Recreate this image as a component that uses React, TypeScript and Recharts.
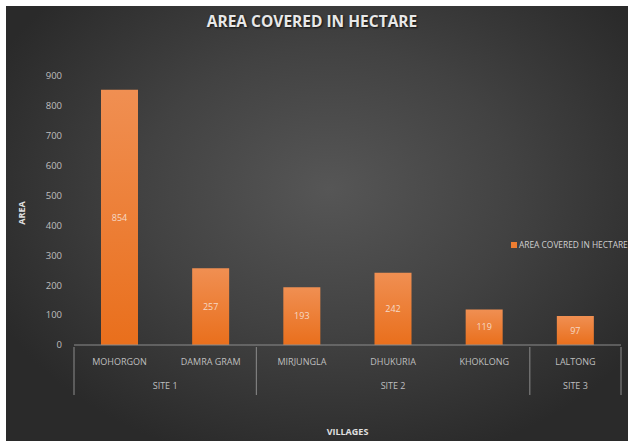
import React from 'react';
import { BarChart, Bar, XAxis, YAxis, Legend, LabelList } from 'recharts';

const villages = ['MOHORGON', 'DAMRA GRAM', 'MIRJUNGLA', 'DHUKURIA', 'KHOKLONG', 'LALTONG'];
const sites = ['SITE 1', 'SITE 1', 'SITE 2', 'SITE 2', 'SITE 2', 'SITE 3'];
const areas = [854, 257, 193, 242, 119, 97];
const yTicks = [0, 100, 200, 300, 400, 500, 600, 700, 800, 900];

const data = villages.map((v, i) => ({ village: v, site: sites[i], area: areas[i] }));

const W = 622;
const H = 435;
const M = { top: 70, right: 7, left: 0, bottom: 0 };
const Y_W = 68;
const BAND = (W - M.left - M.right - Y_W) / villages.length;
const FONT = '"Open Sans", "DejaVu Sans", sans-serif';
const LINE = '#8c8c8c';

const VillageTick = (props: any) => {
    const { x, y, payload, index } = props;
    const i = index ?? villages.indexOf(payload.value);
    const first = i === 0 || sites[i - 1] !== sites[i];
    const last = i === sites.length - 1;
    let siteLabel = null;
    if (first) {
        let end = i;
        while (end + 1 < sites.length && sites[end + 1] === sites[i]) end++;
        const cx = x + ((end - i) * BAND) / 2;
        siteLabel = (
            <text x={cx} y={y + 36} textAnchor="middle" fill="#bfbfbf" fontSize={9} fontFamily={FONT}>
                {sites[i]}
            </text>
        );
    }
    return (
        <g>
            {first && <line x1={x - BAND / 2} x2={x - BAND / 2} y1={y - 6} y2={y + 42} stroke={LINE} />}
            {last && <line x1={x + BAND / 2} x2={x + BAND / 2} y1={y - 6} y2={y + 42} stroke={LINE} />}
            <text x={x} y={y + 12} textAnchor="middle" fill="#bfbfbf" fontSize={9} fontFamily={FONT}>
                {payload.value}
            </text>
            {siteLabel}
        </g>
    );
};

const LegendContent = () => (
    <div style={{ display: 'flex', alignItems: 'center', fontFamily: FONT, fontSize: 8.4, color: '#d0d0d0', whiteSpace: 'nowrap', width: 120 }}>
        <span style={{ width: 6, height: 6, minWidth: 6, flexShrink: 0, background: '#ED7D31', marginRight: 2, display: 'inline-block' }} />
        <span>AREA COVERED IN HECTARE</span>
    </div>
);

export default function App() {
    return (
        <div style={{ position: 'fixed', left: 0, top: 0, width: 628, height: 441, background: '#ffffff', overflow: 'hidden' }}>
            <div
                style={{
                    position: 'absolute',
                    left: 6,
                    top: 6,
                    width: W,
                    height: H,
                    overflow: 'hidden',
                    background: 'radial-gradient(ellipse 60% 65% at 52% 42%, #565656 0%, #424242 50%, #2a2a2a 100%)',
                }}
            >
                <div
                    style={{
                        position: 'absolute',
                        left: 0,
                        top: 4,
                        width: W - 10,
                        textAlign: 'center',
                        fontFamily: FONT,
                        fontWeight: 700,
                        fontSize: 15.5,
                        color: '#e8e8e8',
                        textShadow: '1px 1px 2px #111',
                    }}
                >
                    AREA COVERED IN HECTARE
                </div>
                <BarChart width={W} height={H} data={data} margin={M} style={{ position: 'absolute', left: 0, top: 0 }}>
                    <defs>
                        <linearGradient id="barGrad" x1="0" y1="0" x2="0" y2="1">
                            <stop offset="0%" stopColor="#f08f52" />
                            <stop offset="100%" stopColor="#e96f1c" />
                        </linearGradient>
                    </defs>
                    <XAxis
                        dataKey="village"
                        height={96}
                        tickLine={false}
                        axisLine={{ stroke: LINE }}
                        interval={0}
                        tick={<VillageTick />}
                        label={{ value: 'VILLAGES', position: 'insideBottom', offset: 6, fill: '#e0e0e0', fontSize: 9, fontWeight: 700, fontFamily: FONT }}
                    />
                    <YAxis
                        width={Y_W}
                        domain={[0, 900]}
                        ticks={yTicks}
                        interval={0}
                        tickLine={false}
                        axisLine={false}
                        tickMargin={6}
                        tick={{ fill: '#bfbfbf', fontSize: 9.5, fontFamily: FONT }}
                        label={{
                            value: 'AREA',
                            content: () => (
                                <text
                                    x={19}
                                    y={207}
                                    transform="rotate(-90 19 207)"
                                    textAnchor="middle"
                                    fill="#e0e0e0"
                                    fontSize={9}
                                    fontWeight={700}
                                    fontFamily={FONT}
                                >
                                    AREA
                                </text>
                            ),
                        }}
                    />
                    <Legend
                        layout="horizontal"
                        verticalAlign="middle"
                        align="right"
                        content={<LegendContent />}
                        wrapperStyle={{ position: 'absolute', left: 505, top: 233, width: 0, height: 0, overflow: 'visible' }}
                    />
                    <Bar dataKey="area" name="AREA COVERED IN HECTARE" fill="url(#barGrad)" barSize={37} isAnimationActive={false}>
                        <LabelList dataKey="area" position="center" fill="#f6d9c6" fontSize={9} fontFamily={FONT} />
                    </Bar>
                </BarChart>
            </div>
        </div>
    );
}
